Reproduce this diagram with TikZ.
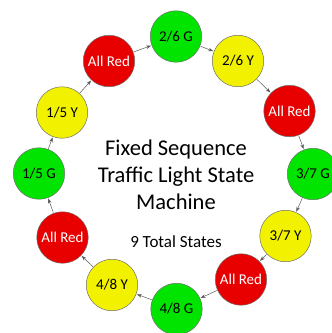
\documentclass[tikz,border=0pt]{standalone}
\usepackage{fontspec}
\setmainfont{Carlito}
\usepackage{xcolor}
\usetikzlibrary{arrows.meta}
\definecolor{lgreen}{RGB}{0,228,0}
\definecolor{lyellow}{RGB}{242,242,0}
\definecolor{lred}{RGB}{232,0,0}
\definecolor{rim}{RGB}{110,110,110}
\definecolor{wire}{RGB}{90,90,90}

\begin{document}
\begin{tikzpicture}[x=1pt,y=-1pt,
  state/.style={circle,draw=rim,line width=0.5pt,minimum size=51.5pt,inner sep=0pt,font=\fontsize{15}{17}\selectfont},
  gstate/.style={state,fill=lgreen},
  ystate/.style={state,fill=lyellow},
  rstate/.style={state,fill=lred,text=white},
  go/.style={draw=wire,line width=0.5pt,-{Stealth[length=5pt,width=3.5pt]},shorten <=0.5pt,shorten >=0.5pt}]
\useasboundingbox (0,0) rectangle (332,333);
% ring of states, clockwise from the top
\node[rstate] (red1) at (109,61) {All Red};
\node[gstate] (g26) at (176,36.5) {2/6 G};
\node[ystate] (y26) at (238,61) {2/6 Y};
\node[rstate] (red2) at (289.5,111) {All Red};
\node[gstate] (g37) at (313,174) {3/7 G};
\node[ystate] (y37) at (285.5,236) {3/7 Y};
\node[rstate] (red3) at (241,279.5) {All Red};
\node[gstate] (g48) at (176.5,309) {4/8 G};
\node[ystate] (y48) at (112,285) {4/8 Y};
\node[rstate] (red4) at (62.5,237.5) {All Red};
\node[gstate] (g15) at (39,173.5) {1/5 G};
\node[ystate] (y15) at (62,112.5) {1/5 Y};
% title in the middle
\node[align=center,font=\fontsize{22.5}{27}\selectfont] (title) at (176,175) {Fixed Sequence\\Traffic Light State\\Machine};
\node[font=\fontsize{17}{20}\selectfont] (count) at (176,242) {9 Total States};
% transitions
\draw[go] (red1) -- (g26);
\draw[go] (g26) -- (y26);
\draw[go] (y26) -- (red2);
\draw[go] (red2) -- (g37);
\draw[go] (g37) -- (y37);
\draw[go] (y37) -- (red3);
\draw[go] (red3) -- (g48);
\draw[go] (g48) -- (y48);
\draw[go] (y48) -- (red4);
\draw[go] (red4) -- (g15);
\draw[go] (g15) -- (y15);
\draw[go] (y15) -- (red1);
\end{tikzpicture}
\end{document}
